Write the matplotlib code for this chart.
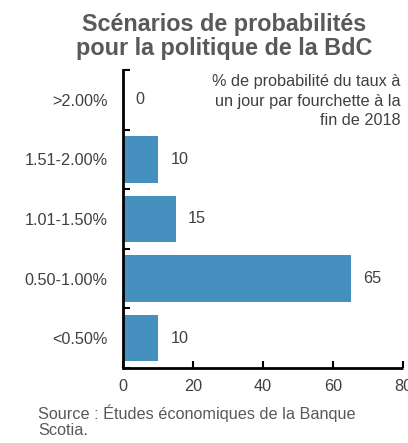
import numpy as np
import matplotlib.pyplot as plt

# Fourchettes du taux à un jour et probabilités associées
fourchettes = ['<0.50%', '0.50-1.00%', '1.01-1.50%', '1.51-2.00%', '>2.00%']
probabilites = [10, 65, 15, 10, 0]

gris = '#595959'
bleu = '#4690C0'

plt.rcParams['font.family'] = ['Liberation Sans', 'DejaVu Sans']

fig = plt.figure(figsize=(4.08, 4.43), dpi=100)
ax = fig.add_axes([0.3015, 0.1693, 0.6863, 0.6727])

y = np.arange(len(fourchettes))
ax.barh(y, probabilites, height=0.78, color=bleu)

# étiquettes de valeur à droite des barres
for yi, v in zip(y, probabilites):
    ax.annotate(str(v), (v, yi), xytext=(9, 0), textcoords='offset points',
                va='center', ha='left', fontsize=11.7, color='#404040')

ax.set_xlim(0, 80)
ax.set_ylim(-0.5, len(fourchettes) - 0.5)
ax.set_xticks([0, 20, 40, 60, 80])
ax.set_yticks(y)
ax.set_yticklabels(fourchettes)
ax.set_yticks(np.arange(-0.5, len(fourchettes)), minor=True)

ax.tick_params(axis='x', direction='in', length=5, width=1.5, colors='black',
               labelcolor='#404040', labelsize=11.7, pad=8)
ax.tick_params(axis='y', which='major', length=0, labelcolor='#404040',
               labelsize=11.7, pad=11)
ax.tick_params(axis='y', which='minor', direction='in', length=5, width=1.5)

for s in ['top', 'right']:
    ax.spines[s].set_visible(False)
for s in ['left', 'bottom']:
    ax.spines[s].set_linewidth(2)
ax.spines['bottom'].set_capstyle('butt')

ax.text(0.99, 0.985, '% de probabilité du taux à\nun jour par fourchette à la\nfin de 2018',
        transform=ax.transAxes, ha='right', va='top', fontsize=11.7,
        color='#404040', linespacing=1.35)

fig.text(0.549, 0.971, 'Scénarios de probabilités\npour la politique de la BdC',
         ha='center', va='top', fontsize=16.8, fontweight='bold', color=gris,
         linespacing=1.08)

fig.text(0.093, 0.087, 'Source : Études économiques de la Banque\nScotia.',
         ha='left', va='top', fontsize=11.7, color=gris, linespacing=1.05)

fig.savefig('out.png', dpi=100)
